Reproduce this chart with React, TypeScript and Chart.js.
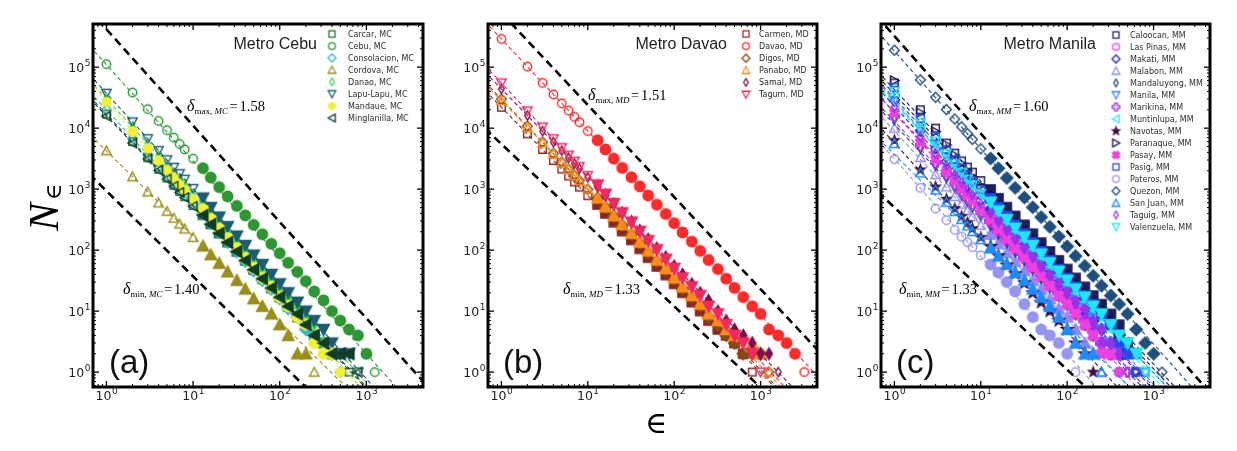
import { useEffect, useRef } from "react";
import { Chart, registerables } from "chart.js";

Chart.register(...registerables);

// Box sizes ε at which the box counts N_ε are listed
const EPS = [1, 2, 3, 4, 5, 6, 7, 8, 10, 13, 16, 20, 25, 32, 40, 50, 63, 80, 100, 125, 160, 200, 250, 320, 400, 500, 630, 800, 1000, 1250, 1600, 2000, 2500, 3200];
// ε at the two ends of every fitted power-law line
const FIT_EPS = [0.5, 5000];
// Decade exponents carrying tick labels
const X_DECADES = [0, 1, 2, 3];
const Y_DECADES = [0, 1, 2, 3, 4, 5];

// ---------- Metro Cebu ----------
const cebuNames = ["Carcar, MC", "Cebu, MC", "Consolacion, MC", "Cordova, MC", "Danao, MC", "Lapu-Lapu, MC", "Mandaue, MC", "Minglanilla, MC"];
const carcarN = [17000, 6000, 3270, 2120, 1520, 1160, 916, 750, 537, 380, 269, 190, 135, 95, 68, 48, 34, 24, 17, 12, 8, 6, 4, 3, 2, 2, 1];
const cebuN = [112000, 38300, 20500, 13100, 9270, 6980, 5500, 4470, 3160, 2210, 1550, 1080, 760, 531, 372, 260, 182, 127, 89, 62, 44, 31, 21, 15, 10, 7, 5, 4, 2, 1];
const consolacionN = [20000, 6810, 3640, 2330, 1650, 1240, 977, 794, 562, 394, 275, 193, 135, 94, 66, 46, 32, 23, 16, 11, 8, 5, 4, 3, 2, 1];
const cordovaN = [4270, 1600, 900, 596, 434, 335, 269, 223, 162, 117, 84, 61, 44, 32, 23, 16, 12, 9, 6, 4, 2, 2, 1];
const danaoN = [30200, 10300, 5510, 3520, 2490, 1880, 1480, 1200, 851, 596, 417, 292, 204, 143, 100, 70, 49, 34, 24, 17, 12, 8, 6, 3, 2, 1];
const lapuLapuN = [37200, 12600, 6700, 4280, 3020, 2270, 1790, 1450, 1020, 714, 499, 348, 243, 170, 119, 83, 58, 40, 28, 20, 14, 10, 7, 5, 3, 2, 2, 1];
const mandaueN = [26900, 8870, 4650, 2930, 2050, 1530, 1200, 966, 676, 468, 324, 224, 155, 107, 74, 51, 35, 25, 17, 12, 8, 6, 3, 2, 2, 1];
const minglanillaN = [15800, 5690, 3120, 2040, 1460, 1120, 889, 731, 525, 373, 265, 189, 134, 95, 68, 48, 34, 24, 17, 12, 9, 6, 4, 3, 2, 2, 2, 1];
const cebuValues = [carcarN, cebuN, consolacionN, cordovaN, danaoN, lapuLapuN, mandaueN, minglanillaN];
// N at FIT_EPS for each fitted line
const cebuFits = [[48000, 0.048], [328000, 0.157], [58500, 0.037], [11200, 0.028], [88500, 0.056], [110000, 0.063], [81600, 0.033], [44200, 0.053]];
const cebuMaxLine = [1250000, 0.6];
const cebuMinLine = [2460, 0.0062];
const cebuDeltas = ["1.58", "1.40"];

// ---------- Metro Davao ----------
const davaoNames = ["Carmen, MD", "Davao, MD", "Digos, MD", "Panabo, MD", "Samal, MD", "Tagum, MD"];
const carmenN = [22000, 8050, 4470, 2940, 2130, 1640, 1310, 1080, 780, 558, 400, 286, 205, 147, 105, 75, 54, 39, 28, 20, 14, 10, 7, 5, 4, 3, 2, 1];
const davaoN = [290000, 102000, 55200, 35700, 25500, 19400, 15300, 12500, 8950, 6320, 4470, 3160, 2230, 1570, 1110, 785, 555, 392, 277, 195, 138, 97, 69, 49, 34, 24, 17, 12, 9, 5, 4, 3, 2, 1];
const digosN = [30000, 10800, 5900, 3850, 2770, 2120, 1680, 1380, 993, 706, 502, 357, 254, 181, 129, 91, 65, 46, 33, 23, 17, 12, 8, 6, 4, 3, 2, 2, 2, 1];
const panaboN = [28200, 10300, 5730, 3780, 2730, 2100, 1680, 1380, 1000, 716, 513, 367, 263, 188, 135, 97, 69, 50, 35, 25, 18, 13, 9, 7, 5, 4, 4, 3, 2, 1];
const samalN = [44000, 16100, 8930, 5890, 4260, 3270, 2620, 2160, 1560, 1120, 800, 573, 410, 294, 210, 151, 108, 77, 55, 40, 28, 20, 15, 10, 7, 5, 4, 3, 2, 2, 1];
const tagumN = [55000, 19100, 10400, 6680, 4760, 3610, 2860, 2330, 1660, 1170, 824, 581, 409, 288, 203, 143, 101, 71, 50, 35, 25, 18, 12, 9, 6, 4, 3, 2, 1];
const davaoValues = [carmenN, davaoN, digosN, panaboN, samalN, tagumN];
const davaoFits = [[60000, 0.095], [826000, 0.75], [83600, 0.1], [76900, 0.122], [120000, 0.19], [158000, 0.131]];
const davaoMaxLine = [2210000, 2.02];
const davaoMinLine = [13800, 0.066];
const davaoDeltas = ["1.51", "1.33"];

// ---------- Metro Manila ----------
const manilaNames = ["Caloocan, MM", "Las Pinas, MM", "Makati, MM", "Malabon, MM", "Mandaluyong, MM", "Manila, MM", "Marikina, MM", "Muntinlupa, MM", "Navotas, MM", "Paranaque, MM", "Pasay, MM", "Pasig, MM", "Pateros, MM", "Quezon, MM", "San Juan, MM", "Taguig, MM", "Valenzuela, MM"];
const caloocanN = [55000, 20000, 10000, 5700, 3900, 2900, 2300, 1900, 1380, 989, 708, 507, 363, 260, 186, 133, 95, 68, 49, 35, 25, 18, 13, 9, 6, 3, 2, 1];
const lasPinasN = [20000, 6580, 3440, 2170, 1520, 1140, 887, 716, 513, 363, 257, 182, 129, 91, 65, 46, 32, 23, 16, 11, 8, 5, 3, 2, 1];
const makatiN = [28200, 8970, 4600, 2860, 1980, 1470, 1140, 912, 653, 462, 327, 232, 164, 116, 82, 58, 41, 29, 21, 15, 10, 7, 5, 3, 2, 2, 1];
const malabonN = [10000, 3300, 1730, 1090, 762, 569, 445, 359, 257, 182, 129, 91, 65, 46, 32, 23, 16, 11, 8, 5, 3, 2, 1];
const mandaluyongN = [14100, 4660, 2440, 1540, 1080, 804, 628, 507, 366, 262, 188, 135, 96, 69, 49, 35, 25, 18, 13, 9, 6, 4, 3, 2, 1];
const manilaN = [28200, 9620, 5140, 3290, 2330, 1750, 1380, 1120, 800, 564, 397, 280, 197, 139, 98, 69, 49, 34, 24, 17, 12, 8, 5, 3, 2, 2, 1];
const marikinaN = [15800, 5220, 2740, 1730, 1210, 902, 705, 569, 411, 294, 211, 151, 108, 77, 55, 40, 28, 20, 15, 10, 7, 5, 3, 2, 2, 1];
const muntinlupaN = [35500, 11300, 5790, 3610, 2490, 1850, 1430, 1150, 830, 594, 426, 305, 218, 156, 112, 80, 57, 41, 29, 21, 15, 11, 8, 5, 3, 2, 2, 1];
const navotasN = [6310, 2080, 1090, 687, 481, 359, 281, 226, 162, 115, 81, 57, 41, 29, 20, 14, 10, 7, 5, 3, 2, 1];
const paranaqueN = [60300, 17900, 8810, 5320, 3610, 2620, 2000, 1580, 1150, 820, 587, 421, 301, 216, 155, 111, 79, 57, 41, 29, 21, 15, 11, 7, 4, 2, 1];
const pasayN = [17800, 5860, 3070, 1940, 1360, 1010, 791, 638, 452, 316, 221, 155, 108, 76, 53, 37, 26, 18, 13, 9, 6, 4, 2, 2, 1];
const pasigN = [46800, 14400, 7230, 4440, 3030, 2220, 1710, 1360, 986, 706, 506, 362, 259, 186, 133, 95, 68, 49, 35, 25, 18, 13, 9, 6, 3, 2, 1];
const paterosN = [3100, 1050, 480, 310, 215, 165, 135, 112, 82, 58, 43, 30, 21, 13, 8, 5, 4, 3, 2, 1];
const quezonN = [190000, 61900, 32100, 20200, 14100, 10500, 8150, 6560, 4590, 3180, 2200, 1520, 1050, 728, 504, 348, 241, 167, 115, 80, 55, 38, 26, 18, 13, 9, 5, 3, 2, 1];
const sanJuanN = [5620, 1850, 970, 612, 429, 320, 250, 202, 149, 109, 80, 59, 43, 32, 23, 17, 12, 8, 5, 3, 2, 2, 1];
const taguigN = [22400, 7380, 3860, 2440, 1710, 1270, 995, 804, 581, 416, 298, 213, 153, 109, 78, 56, 40, 29, 21, 15, 11, 7, 5, 3, 2, 1];
const valenzuelaN = [39800, 12200, 6150, 3780, 2580, 1890, 1460, 1160, 845, 610, 440, 317, 229, 165, 119, 86, 62, 45, 32, 23, 17, 12, 9, 6, 4, 3, 2, 1];
const manilaValues = [caloocanN, lasPinasN, makatiN, malabonN, mandaluyongN, manilaN, marikinaN, muntinlupaN, navotasN, paranaqueN, pasayN, pasigN, paterosN, quezonN, sanJuanN, taguigN, valenzuelaN];
const manilaFits = [[122000, 0.12], [52700, 0.033], [67100, 0.042], [26400, 0.017], [32500, 0.032], [82600, 0.052], [36500, 0.036], [73600, 0.073], [16700, 0.0105], [102000, 0.101], [54000, 0.021], [87500, 0.087], [9480, 0.0038], [555000, 0.22], [9770, 0.0245], [51500, 0.051], [68200, 0.09]];
const manilaMaxLine = [982000, 0.39];
const manilaMinLine = [1260, 0.006];
const manilaDeltas = ["1.60", "1.33"];

type Shape = "square" | "circle" | "diamond" | "thinDiamond" | "triUp" | "triDown" | "triLeft" | "triRight" | "hexagon" | "plus" | "cross" | "star";
type Style = { color: string; shape: Shape; solid?: boolean };

const cebuStyle: Style[] = [
  { color: "#2a6a2a", shape: "square" },
  { color: "#2e9632", shape: "circle" },
  { color: "#38b6cc", shape: "diamond" },
  { color: "#9a8f1c", shape: "triUp" },
  { color: "#42e042", shape: "thinDiamond" },
  { color: "#1d5c74", shape: "triDown" },
  { color: "#f2f235", shape: "hexagon", solid: true },
  { color: "#0f3d28", shape: "triLeft" },
];
const davaoStyle: Style[] = [
  { color: "#8b2525", shape: "square" },
  { color: "#ff2a2a", shape: "circle" },
  { color: "#8b4a13", shape: "diamond" },
  { color: "#ff8c1a", shape: "triUp" },
  { color: "#7a1050", shape: "thinDiamond" },
  { color: "#f5285f", shape: "triDown" },
];
const manilaStyle: Style[] = [
  { color: "#1e1e5a", shape: "square" },
  { color: "#ff3cf0", shape: "circle" },
  { color: "#2323c8", shape: "diamond" },
  { color: "#8c8cf5", shape: "triUp" },
  { color: "#2c4774", shape: "thinDiamond" },
  { color: "#2e8cff", shape: "triDown" },
  { color: "#a030f0", shape: "plus" },
  { color: "#38e4ef", shape: "triLeft" },
  { color: "#3c1040", shape: "star", solid: true },
  { color: "#141448", shape: "triRight" },
  { color: "#f040e0", shape: "cross", solid: true },
  { color: "#2648f0", shape: "square" },
  { color: "#9696f0", shape: "circle" },
  { color: "#1f4f7e", shape: "diamond" },
  { color: "#1e8cff", shape: "triUp" },
  { color: "#9a32e6", shape: "thinDiamond" },
  { color: "#20e6f5", shape: "triDown" },
];

type Series = Style & { name: string; values: number[]; fit: number[] };
const combine = (names: string[], styles: Style[], values: number[][], fits: number[][]): Series[] =>
  names.map((name, i) => ({ ...styles[i], name, values: values[i], fit: fits[i] }));

type Panel = {
  canvasLeft: number; canvasWidth: number; plotLeft: number; plotRight: number;
  title: string; titleRight: number;
  legendX: number; legendTextX: number; legendTop: number; legendStep: number;
  letter: string; letterX: number; region: string; deltas: string[];
  maxPos: number[]; minPos: number[]; maxLine: number[]; minLine: number[];
  series: Series[]; yLabel?: boolean; xLabel?: boolean;
};

const PANELS: Panel[] = [
  {
    canvasLeft: 0, canvasWidth: 440, plotLeft: 93, plotRight: 423,
    title: "Metro Cebu", titleRight: 317,
    legendX: 332, legendTextX: 348, legendTop: 34, legendStep: 12,
    letter: "(a)", letterX: 109, region: "MC", deltas: cebuDeltas,
    maxPos: [187, 106], minPos: [123, 289], maxLine: cebuMaxLine, minLine: cebuMinLine,
    series: combine(cebuNames, cebuStyle, cebuValues, cebuFits), yLabel: true,
  },
  {
    canvasLeft: 440, canvasWidth: 390, plotLeft: 488, plotRight: 817,
    title: "Metro Davao", titleRight: 727,
    legendX: 746, legendTextX: 759, legendTop: 34, legendStep: 12.1,
    letter: "(b)", letterX: 503, region: "MD", deltas: davaoDeltas,
    maxPos: [588, 95], minPos: [563, 289], maxLine: davaoMaxLine, minLine: davaoMinLine,
    series: combine(davaoNames, davaoStyle, davaoValues, davaoFits), xLabel: true,
  },
  {
    canvasLeft: 830, canvasWidth: 407, plotLeft: 881, plotRight: 1210,
    title: "Metro Manila", titleRight: 1096,
    legendX: 1116, legendTextX: 1130, legendTop: 35, legendStep: 12,
    letter: "(c)", letterX: 896, region: "MM", deltas: manilaDeltas,
    maxPos: [969, 106], minPos: [899, 289], maxLine: manilaMaxLine, minLine: manilaMinLine,
    series: combine(manilaNames, manilaStyle, manilaValues, manilaFits),
  },
];

const PLOT_TOP = 24;
const PLOT_BOTTOM = 387;
const HEIGHT = 451;

function tracePath(g: CanvasRenderingContext2D, shape: Shape, r: number) {
  const poly = (pts: number[][]) => {
    g.moveTo(pts[0][0] * r, pts[0][1] * r);
    for (let i = 1; i < pts.length; i++) g.lineTo(pts[i][0] * r, pts[i][1] * r);
    g.closePath();
  };
  g.beginPath();
  switch (shape) {
    case "square": poly([[-0.8, -0.8], [0.8, -0.8], [0.8, 0.8], [-0.8, 0.8]]); break;
    case "circle": g.arc(0, 0, 0.9 * r, 0, Math.PI * 2); break;
    case "diamond": poly([[0, -1.05], [1.05, 0], [0, 1.05], [-1.05, 0]]); break;
    case "thinDiamond": poly([[0, -1], [0.6, 0], [0, 1], [-0.6, 0]]); break;
    case "triUp": poly([[0, -1], [1, 0.85], [-1, 0.85]]); break;
    case "triDown": poly([[0, 1], [1, -0.85], [-1, -0.85]]); break;
    case "triLeft": poly([[-1, 0], [0.85, -1], [0.85, 1]]); break;
    case "triRight": poly([[1, 0], [-0.85, -1], [-0.85, 1]]); break;
    case "hexagon": {
      const pts = [];
      for (let k = 0; k < 6; k++) {
        const a = -Math.PI / 2 + (k * Math.PI) / 3;
        pts.push([Math.cos(a), Math.sin(a)]);
      }
      poly(pts);
      break;
    }
    case "plus":
    case "cross": {
      const a = 0.36;
      let pts = [[-a, -1], [a, -1], [a, -a], [1, -a], [1, a], [a, a], [a, 1], [-a, 1], [-a, a], [-1, a], [-1, -a], [-a, -a]];
      if (shape === "cross") {
        const c = Math.SQRT1_2;
        pts = pts.map(([x, y]) => [(x - y) * c, (x + y) * c]);
      }
      poly(pts);
      break;
    }
    case "star": {
      const pts = [];
      for (let k = 0; k < 10; k++) {
        const a = -Math.PI / 2 + (k * Math.PI) / 5;
        const rr = k % 2 === 0 ? 1.05 : 0.45;
        pts.push([rr * Math.cos(a), rr * Math.sin(a)]);
      }
      poly(pts);
      break;
    }
  }
}

function makeMarker(shape: Shape, color: string, r: number, lw: number, filled: boolean) {
  const size = Math.ceil(2 * r + lw + 4);
  const c = document.createElement("canvas");
  c.width = size;
  c.height = size;
  const g = c.getContext("2d")!;
  g.translate(size / 2, size / 2);
  tracePath(g, shape, r);
  if (filled) {
    g.fillStyle = color;
    g.fill();
  }
  g.lineWidth = lw;
  g.strokeStyle = color;
  g.lineJoin = "miter";
  g.stroke();
  return c;
}

function drawPower(ctx: CanvasRenderingContext2D, exp: number, x: number, yMid: number, align: "center" | "right") {
  ctx.fillStyle = "#222";
  ctx.textBaseline = "alphabetic";
  ctx.textAlign = "left";
  ctx.font = "12.5px 'DejaVu Sans'";
  const w1 = ctx.measureText("10").width;
  ctx.font = "9px 'DejaVu Sans'";
  const w2 = ctx.measureText(String(exp)).width;
  const x0 = align === "center" ? x - (w1 + w2) / 2 : x - (w1 + w2);
  ctx.font = "12.5px 'DejaVu Sans'";
  ctx.fillText("10", x0, yMid + 4.5);
  ctx.font = "9px 'DejaVu Sans'";
  ctx.fillText(String(exp), x0 + w1 + 0.5, yMid - 1.5);
}

function drawDelta(ctx: CanvasRenderingContext2D, x: number, y: number, kind: string, region: string, value: string) {
  const base = y + 5;
  ctx.fillStyle = "#000";
  ctx.textAlign = "left";
  ctx.textBaseline = "alphabetic";
  let cx = x;
  ctx.font = "italic 16px 'Liberation Serif'";
  ctx.fillText("δ", cx, base);
  cx += ctx.measureText("δ").width;
  ctx.font = "9px 'Liberation Serif'";
  ctx.fillText(kind + ",", cx, base + 3);
  cx += ctx.measureText(kind + ", ").width;
  ctx.font = "italic 9px 'Liberation Serif'";
  ctx.fillText(region, cx, base + 3);
  cx += ctx.measureText(region).width + 1.5;
  ctx.font = "14.5px 'Liberation Serif'";
  ctx.fillText("=", cx, base);
  cx += ctx.measureText("=").width + 2;
  ctx.fillText(value, cx, base);
}

function overlayPlugin(p: Panel, legendMarkers: HTMLCanvasElement[]) {
  return {
    id: "overlay",
    afterDraw(chart: any) {
      const ctx: CanvasRenderingContext2D = chart.ctx;
      const a = chart.chartArea;
      const xs = chart.scales.x;
      const ys = chart.scales.y;
      const off = p.canvasLeft;
      ctx.save();
      ctx.strokeStyle = "#000";
      const seg = (x1: number, y1: number, x2: number, y2: number) => {
        ctx.beginPath();
        ctx.moveTo(x1, y1);
        ctx.lineTo(x2, y2);
        ctx.stroke();
      };
      // inward ticks on all four sides
      for (let d = -1; d <= 4; d++) {
        for (let k = 1; k <= 9; k++) {
          const v = k * Math.pow(10, d);
          if (v < xs.min || v > xs.max) continue;
          const px = xs.getPixelForValue(v);
          const len = k === 1 ? 6 : 3;
          ctx.lineWidth = k === 1 ? 1.3 : 1;
          seg(px, a.bottom, px, a.bottom - len);
          seg(px, a.top, px, a.top + len);
        }
      }
      for (let d = -1; d <= 6; d++) {
        for (let k = 1; k <= 9; k++) {
          const v = k * Math.pow(10, d);
          if (v < ys.min || v > ys.max) continue;
          const py = ys.getPixelForValue(v);
          const len = k === 1 ? 6 : 3;
          ctx.lineWidth = k === 1 ? 1.3 : 1;
          seg(a.left, py, a.left + len, py);
          seg(a.right, py, a.right - len, py);
        }
      }
      // frame
      ctx.lineWidth = 3;
      ctx.strokeRect(a.left, a.top, a.right - a.left, a.bottom - a.top);
      // tick labels
      X_DECADES.forEach((e) => drawPower(ctx, e, xs.getPixelForValue(Math.pow(10, e)), 395, "center"));
      Y_DECADES.forEach((e) => drawPower(ctx, e, a.left - 3, ys.getPixelForValue(Math.pow(10, e)), "right"));
      // panel title
      ctx.fillStyle = "#222";
      ctx.font = "16px 'Liberation Sans'";
      ctx.textAlign = "right";
      ctx.textBaseline = "alphabetic";
      ctx.fillText(p.title, p.titleRight - off, 49);
      // legend
      ctx.font = "8px 'DejaVu Sans'";
      ctx.textAlign = "left";
      ctx.textBaseline = "middle";
      p.series.forEach((s, i) => {
        const y = p.legendTop + i * p.legendStep;
        const m = legendMarkers[i];
        ctx.drawImage(m, p.legendX - off - m.width / 2, y - m.height / 2);
        ctx.fillStyle = "#2e2e2e";
        ctx.fillText(s.name, p.legendTextX - off, y + 0.5);
      });
      // exponent annotations
      drawDelta(ctx, p.maxPos[0] - off, p.maxPos[1], "max", p.region, p.deltas[0]);
      drawDelta(ctx, p.minPos[0] - off, p.minPos[1], "min", p.region, p.deltas[1]);
      // panel letter
      ctx.fillStyle = "#111";
      ctx.font = "33px 'Liberation Sans'";
      ctx.textAlign = "left";
      ctx.textBaseline = "alphabetic";
      ctx.fillText(p.letter, p.letterX - off, 373);
      // axis labels
      if (p.yLabel) {
        ctx.save();
        ctx.translate(58, 231);
        ctx.rotate(-Math.PI / 2);
        ctx.fillStyle = "#000";
        ctx.font = "italic 42px 'Liberation Serif'";
        ctx.fillText("N", 0, 0);
        ctx.font = "22px 'DejaVu Serif'";
        ctx.fillText("∈", 31, 3);
        ctx.restore();
      }
      if (p.xLabel) {
        ctx.fillStyle = "#000";
        ctx.font = "30px 'DejaVu Serif'";
        ctx.textAlign = "center";
        ctx.fillText("∈", 656 - off, 433);
      }
      ctx.restore();
    },
  };
}

function buildChart(canvas: HTMLCanvasElement, p: Panel) {
  const datasets: any[] = [];
  let k = 0;
  const legendMarkers: HTMLCanvasElement[] = [];
  p.series.forEach((s) => {
    // sparse small-ε points stay open; the crowded run of larger boxes merges into a solid band
    const open = makeMarker(s.shape, s.color, 4.7, 1.4, !!s.solid);
    const dense = makeMarker(s.shape, s.color, 5.8, 1.4, true);
    legendMarkers.push(makeMarker(s.shape, s.color, 3.8, 1.3, !!s.solid));
    datasets.push({
      type: "scatter",
      data: s.values.map((v, j) => ({ x: EPS[j], y: v })),
      showLine: false,
      pointRadius: 5,
      pointStyle: (c: any) => (EPS[c.dataIndex] >= 13 && s.values[c.dataIndex] > 1 ? dense : open),
      order: 1000 - k++,
    });
    datasets.push({
      type: "line",
      data: FIT_EPS.map((x, j) => ({ x, y: s.fit[j] })),
      borderColor: s.color,
      borderWidth: 1.1,
      borderDash: [4, 3],
      pointRadius: 0,
      fill: false,
      order: 1000 - k++,
    });
  });
  [p.maxLine, p.minLine].forEach((line) => {
    datasets.push({
      type: "line",
      data: FIT_EPS.map((x, j) => ({ x, y: line[j] })),
      borderColor: "#000",
      borderWidth: 2.6,
      borderDash: [8, 5],
      pointRadius: 0,
      fill: false,
      order: 1000 - k++,
    });
  });
  return new Chart(canvas, {
    type: "scatter",
    data: { datasets },
    options: {
      animation: false,
      responsive: false,
      events: [],
      layout: {
        padding: {
          left: p.plotLeft - p.canvasLeft,
          right: p.canvasLeft + p.canvasWidth - p.plotRight,
          top: PLOT_TOP,
          bottom: HEIGHT - PLOT_BOTTOM,
        },
      },
      scales: {
        x: { type: "logarithmic", min: 0.7, max: 4500, display: false },
        y: { type: "logarithmic", min: 0.57, max: 510000, display: false },
      },
      plugins: { legend: { display: false }, tooltip: { enabled: false } },
    },
    plugins: [overlayPlugin(p, legendMarkers)],
  } as any);
}

export default function App() {
  const refs = useRef<(HTMLCanvasElement | null)[]>([]);
  useEffect(() => {
    const charts = PANELS.map((p, i) => buildChart(refs.current[i]!, p));
    return () => charts.forEach((c) => c.destroy());
  }, []);
  return (
    <div style={{ position: "absolute", left: 0, top: 0, width: 1237, height: HEIGHT, background: "#fff", overflow: "hidden" }}>
      {PANELS.map((p, i) => (
        <canvas
          key={i}
          ref={(el) => {
            refs.current[i] = el;
          }}
          width={p.canvasWidth}
          height={HEIGHT}
          style={{ position: "absolute", left: p.canvasLeft, top: 0, width: p.canvasWidth, height: HEIGHT }}
        />
      ))}
    </div>
  );
}
